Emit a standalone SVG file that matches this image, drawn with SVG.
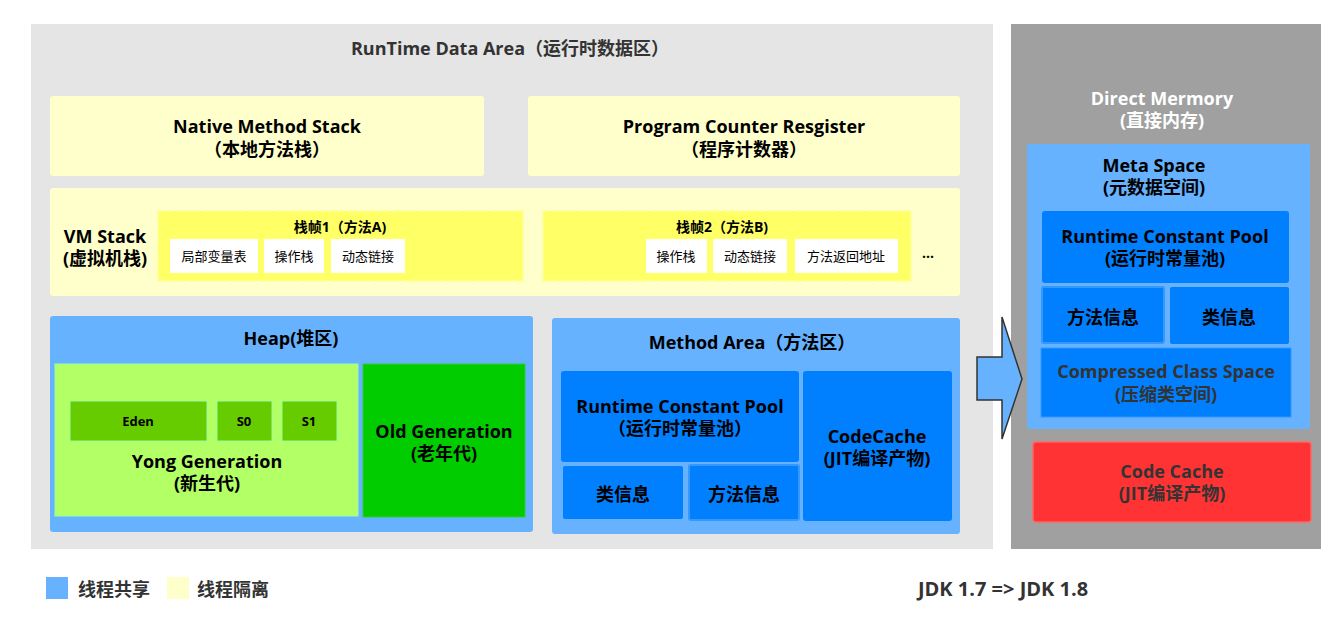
<svg xmlns="http://www.w3.org/2000/svg" width="1344" height="636" viewBox="0 0 1344 636">
<style>
text{font-family:"Open Sans","Noto Sans CJK SC",sans-serif;text-anchor:middle;fill:#000}
.t{font-size:18px;font-weight:bold}
.h{font-size:18px;font-weight:bold;fill:#333}
.s{font-size:14px;font-weight:bold}
.w{font-size:13px}
.e{font-size:13px;font-weight:bold}
.y{fill:#ffffcc}
.b{fill:#66b2ff}
.d{fill:#007fff}
.wb{fill:#fff}
.fr{fill:#ffff66;stroke:#ffff99;stroke-width:2;stroke-dasharray:6 3}
</style>
<rect width="1344" height="636" fill="#fff"/>
<g id="runtime-area">
<rect x="31" y="24" width="962" height="525" fill="#e5e5e5"/>
<text class="h" x="510" y="55">RunTime Data Area（运行时数据区）</text>
</g>
<g id="direct-memory">
<rect x="1011" y="24" width="310" height="525" fill="#a0a0a0"/>
<text class="t" x="1162" y="105" style="fill:#fff">Direct Mermory</text>
<text class="t" x="1162" y="127" style="fill:#fff">(直接内存)</text>
</g>
<g id="native-method-stack">
<rect class="y" x="50" y="96" width="434" height="80" rx="3"/>
<text class="t" x="267" y="133">Native Method Stack</text>
<text class="t" x="267" y="156">（本地方法栈）</text>
</g>
<g id="program-counter">
<rect class="y" x="528" y="96" width="432" height="80" rx="3"/>
<text class="t" x="744" y="133">Program Counter Resgister</text>
<text class="t" x="744" y="156">（程序计数器）</text>
</g>
<g id="vm-stack">
<rect class="y" x="50" y="188" width="910" height="108" rx="3"/>
<text class="t" x="105" y="243">VM Stack</text>
<text class="t" x="105" y="265">(虚拟机栈)</text>
<text x="928" y="258" style="font-size:14px;font-weight:bold">...</text>
</g>
<g id="frame1">
<rect class="fr" x="158" y="211" width="365" height="70"/>
<text class="s" x="340" y="232">栈帧1（方法A)</text>
<rect class="wb" x="170" y="239" width="88" height="34"/>
<text class="w" x="214" y="261">局部变量表</text>
<rect class="wb" x="264" y="239" width="60" height="34"/>
<text class="w" x="294" y="261">操作栈</text>
<rect class="wb" x="331" y="239" width="74" height="34"/>
<text class="w" x="368" y="261">动态链接</text>
</g>
<g id="frame2">
<rect class="fr" x="543" y="211" width="368" height="70"/>
<text class="s" x="722" y="232">栈帧2（方法B)</text>
<rect class="wb" x="646" y="239" width="61" height="34"/>
<text class="w" x="676" y="261">操作栈</text>
<rect class="wb" x="713" y="239" width="74" height="34"/>
<text class="w" x="750" y="261">动态链接</text>
<rect class="wb" x="795" y="239" width="103" height="34"/>
<text class="w" x="846" y="261">方法返回地址</text>
</g>
<g id="heap">
<rect class="b" x="50" y="316" width="483" height="216" rx="3"/>
<text class="t" x="291" y="345">Heap(堆区)</text>
</g>
<g id="young-generation">
<rect x="55" y="364" width="303" height="152" fill="#b3ff66" stroke="#99ff99" stroke-width="1"/>
<rect x="70" y="401" width="137" height="40" fill="#66cc00" stroke="#99ff99" stroke-width="1"/>
<text class="e" x="138" y="426">Eden</text>
<rect x="217" y="401" width="55" height="40" fill="#66cc00" stroke="#99ff99" stroke-width="1"/>
<text class="e" x="244" y="426">S0</text>
<rect x="282" y="401" width="55" height="40" fill="#66cc00" stroke="#99ff99" stroke-width="1"/>
<text class="e" x="309" y="426">S1</text>
<text class="t" x="207" y="468">Yong Generation</text>
<text class="t" x="207" y="490">(新生代)</text>
</g>
<g id="old-generation">
<rect x="363" y="364" width="162" height="153" fill="#00cc00" stroke="#33cc33" stroke-width="1"/>
<text class="t" x="444" y="438">Old Generation</text>
<text class="t" x="444" y="460">(老年代)</text>
</g>
<g id="method-area">
<rect class="b" x="552" y="318" width="408" height="216" rx="3"/>
<text class="t" x="752" y="349">Method Area（方法区）</text>
<rect class="d" x="561" y="371" width="238" height="91" rx="3"/>
<text class="t" x="680" y="413">Runtime Constant Pool</text>
<text class="t" x="680" y="435">（运行时常量池）</text>
<rect class="d" x="563" y="466" width="120" height="53" rx="2"/>
<text class="t" x="623" y="501">类信息</text>
<rect class="d" x="689" y="465" width="110" height="55" rx="2" stroke="#3399ff" stroke-width="2"/>
<text class="t" x="744" y="501">方法信息</text>
<rect class="d" x="803" y="371" width="149" height="150" rx="3"/>
<text class="t" x="877" y="443">CodeCache</text>
<text class="t" x="877" y="465">(JIT编译产物)</text>
</g>
<g id="meta-space">
<rect class="b" x="1027" y="144" width="283" height="285" rx="3"/>
<text class="t" x="1154" y="172">Meta Space</text>
<text class="t" x="1154" y="194">(元数据空间)</text>
<rect class="d" x="1042" y="211" width="247" height="72" rx="3"/>
<text class="t" x="1165" y="243">Runtime Constant Pool</text>
<text class="t" x="1165" y="265">(运行时常量池)</text>
<rect class="d" x="1042" y="287" width="122" height="56" rx="2" stroke="#3399ff" stroke-width="2"/>
<text class="t" x="1103" y="324">方法信息</text>
<rect class="d" x="1170" y="287" width="119" height="57" rx="2"/>
<text class="t" x="1229" y="324">类信息</text>
<rect class="d" x="1041" y="348" width="250" height="69" stroke="#3399ff" stroke-width="1"/>
<text class="t" x="1166" y="378" style="fill:#333">Compressed Class Space</text>
<text class="t" x="1166" y="401" style="fill:#333">(压缩类空间)</text>
</g>
<g id="code-cache">
<rect x="1033" y="442" width="278" height="80" rx="3" fill="#ff3333" stroke="#ff6666" stroke-width="1.5"/>
<text class="t" x="1172" y="478" style="fill:#333">Code Cache</text>
<text class="t" x="1172" y="500" style="fill:#333">(JIT编译产物)</text>
</g>
<g id="connectors">
<path d="M977,357 L1002,357 L1002,317 L1022,379 L1002,439 L1002,400 L977,400 Z" fill="#66b2ff" stroke="#333" stroke-width="1.5" stroke-linejoin="miter"/>
</g>
<g id="legend">
<rect class="b" x="46" y="577" width="22" height="22"/>
<text class="t" x="78" y="596" style="text-anchor:start;fill:#333">线程共享</text>
<rect class="y" x="167" y="577" width="22" height="22"/>
<text class="t" x="197" y="596" style="text-anchor:start;fill:#333">线程隔离</text>
<text x="1003" y="596" style="font-size:20px;font-weight:bold;fill:#333">JDK 1.7 =&gt; JDK 1.8</text>
</g>
</svg>
